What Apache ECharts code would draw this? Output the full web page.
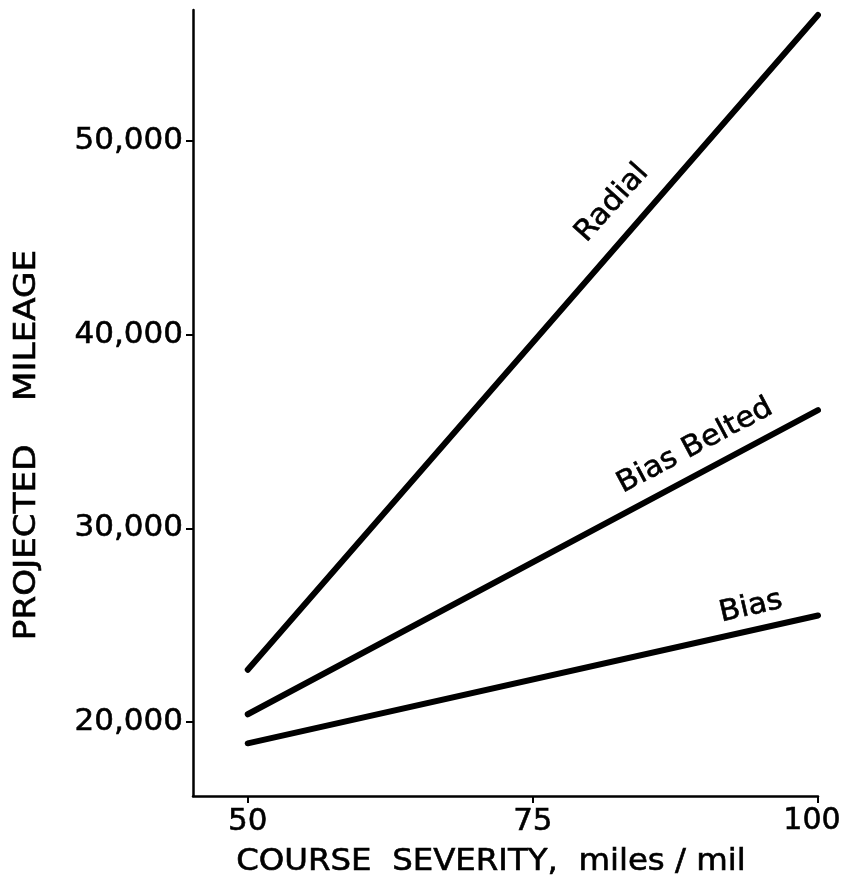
<!DOCTYPE html>
<html>
<head>
<meta charset="utf-8">
<script src="https://cdn.jsdelivr.net/npm/echarts@6/dist/echarts.min.js"></script>
<style>html,body{margin:0;padding:0;background:#fff}#c{width:843px;height:888px}</style>
</head>
<body>
<div id="c"></div>
<script>
const severity = [50, 100];
const radial = [22700, 56500];
const biasBelted = [20400, 36100];
const bias = [18900, 25500];
const xTicks = [50, 75, 100];
const yTicks = [20000, 30000, 40000, 50000];
const seriesNames = ['Radial', 'Bias Belted', 'Bias'];
const xTitle = 'COURSE  SEVERITY,  miles / mil';
const yTitle = 'PROJECTED    MILEAGE';

const FONT = 'DejaVu Sans';
const chart = echarts.init(document.getElementById('c'));
function mk(name, vals) {
  return {
    name: name, type: 'line', symbol: 'none', silent: true,
    data: severity.map((x, i) => [x, vals[i]]),
    lineStyle: { color: '#000', width: 6, cap: 'round' }
  };
}
const txt = (t, size) => ({ text: t, fontFamily: FONT, fontSize: size, fill: '#000',
  stroke: '#000', lineWidth: 0.6, align: 'center', verticalAlign: 'middle' });
chart.setOption({
  animation: false,
  backgroundColor: '#fff',
  grid: { left: 193, right: 25, top: 10, bottom: 92, outerBoundsMode: 'none', containLabel: false },
  xAxis: {
    type: 'value', min: 45.2, max: 100,
    axisLine: { lineStyle: { color: '#000', width: 2.5 } },
    axisTick: { show: true, length: 7, lineStyle: { color: '#000', width: 2 }, customValues: xTicks },
    axisLabel: { color: '#000', fontFamily: FONT, fontSize: 31, margin: 10, customValues: xTicks,
      textBorderColor: '#000', textBorderWidth: 0.6, hideOverlap: false,
      formatter: v => v === xTicks[xTicks.length - 1] ? '{e|' + v + '}' : String(v),
      rich: { e: { color: '#000', fontFamily: FONT, fontSize: 30, padding: [0, 12, 0, 0],
        textBorderColor: '#000', textBorderWidth: 0.6 } } },
    splitLine: { show: false }
  },
  yAxis: {
    type: 'value', min: 16180, max: 56760,
    axisLine: { show: true, lineStyle: { color: '#000', width: 2.5 } },
    axisTick: { show: true, length: 7, lineStyle: { color: '#000', width: 2 }, customValues: yTicks },
    axisLabel: { color: '#000', fontFamily: FONT, fontSize: 31, margin: 10,
      textBorderColor: '#000', textBorderWidth: 0.6,
      customValues: yTicks, formatter: v => v.toLocaleString('en-US') },
    splitLine: { show: false }
  },
  series: [mk(seriesNames[0], radial), mk(seriesNames[1], biasBelted), mk(seriesNames[2], bias)],
  graphic: [
    { type: 'text', x: 612, y: 203, rotation: 48 * Math.PI / 180, scaleX: 1.05,
      style: txt(seriesNames[0], 29) },
    { type: 'text', x: 695, y: 446, rotation: 28 * Math.PI / 180, scaleX: 1.05,
      style: txt(seriesNames[1], 29) },
    { type: 'text', x: 751, y: 607, rotation: 13 * Math.PI / 180, scaleX: 1.05,
      style: txt(seriesNames[2], 29) },
    { type: 'text', x: 491, y: 862, scaleX: 1.08,
      style: txt(xTitle, 30) },
    { type: 'text', x: 27, y: 445, rotation: Math.PI / 2, scaleX: 1.14,
      style: txt(yTitle, 30) }
  ]
});
</script>
</body>
</html>
